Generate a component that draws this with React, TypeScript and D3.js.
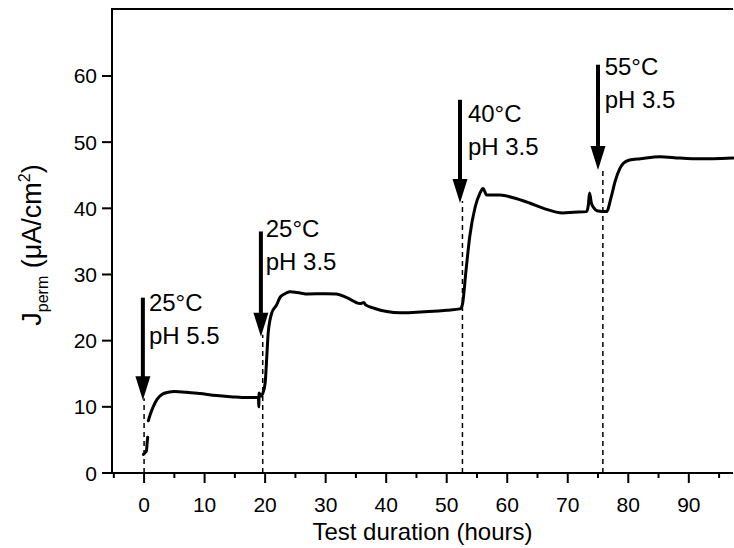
import React from "react";
import * as d3 from "d3";

const W = 734;
const H = 548;

// Curve: start segment (NaN = gap) then main trace
const hours: number[] = [
  -0.1, 0.2, 0.4, 0.5, 0.6, NaN,
  0.7, 1.0, 1.5, 2.2, 3.0, 4.0, 5.0, 7.0, 9.2, 12, 14.7, 17, 18.9, 18.95, 19.0, 19.3, 19.6,
  20.0, 20.3, 20.5, 21.1, 21.9, 22.5, 23.5, 24.1, 25.8, 27, 30, 31.8, 33.5, 35.7, 36.3, 36.6, 38, 40.1, 42.3,
  45, 47, 50, 52.2, 52.6, 53.2, 53.8, 54.7, 55.5, 56.0, 56.6, 58.8, 61, 63.7, 66, 69.2, 71, 73.1,
  73.4, 73.6, 73.9, 74.2, 75.0, 76.4, 77.2, 77.8, 78.6, 79.2, 80.2, 82, 85.2, 88.5, 91, 94, 97.3,
];
const current: number[] = [
  2.8, 3.1, 3.4, 4.5, 5.4, NaN,
  7.9, 8.8, 10.0, 11.2, 11.9, 12.2, 12.3, 12.2, 12.0, 11.7, 11.5, 11.4, 11.4, 10.0, 12.1, 11.6, 12.0,
  13.6, 18.0, 21.1, 24.2, 25.4, 26.6, 27.2, 27.4, 27.2, 27.05, 27.1, 27.05, 26.5, 25.6, 25.75, 25.4, 24.9, 24.4, 24.2,
  24.3, 24.4, 24.6, 24.8, 25.5, 30.7, 35.7, 40.2, 42.3, 43.0, 42.0, 42.0, 41.6, 40.8, 40.0, 39.3, 39.4, 39.5,
  40.5, 42.3, 40.8, 40.2, 39.6, 39.5, 41.8, 44.0, 46.0, 46.8, 47.3, 47.5, 47.8, 47.6, 47.5, 47.5, 47.6,
];

// Event markers (dashed lines) and arrows
const eventHours: number[] = [0, 19.6, 52.6, 75.8];
const arrowHours: number[] = [-0.2, 19.3, 52.2, 75.0];
const arrowTop: number[] = [26.5, 36.5, 56.4, 61.7];
const arrowTip: number[] = [11.0, 20.6, 40.8, 45.8];
const labelHours: number[] = [0.8, 20.1, 53.5, 76.1];
const labelLevel: number[] = [24.5, 35.6, 53.1, 60.1];
const tempLabels: string[] = ["25°C", "25°C", "40°C", "55°C"];
const phLabels: string[] = ["pH 5.5", "pH 3.5", "pH 3.5", "pH 3.5"];

const xTicks: number[] = [0, 10, 20, 30, 40, 50, 60, 70, 80, 90];
const xMinorTicks: number[] = [-5, 5, 15, 25, 35, 45, 55, 65, 75, 85, 95];
const yTicks: number[] = [0, 10, 20, 30, 40, 50, 60];

const FONT = "Arial, 'Liberation Sans', Helvetica, sans-serif";

export default function App() {
  const left = 112, right = 733, top = 9, bottom = 473;
  const x = d3.scaleLinear().domain([-5.3, 97.3]).range([left, right]);
  const y = d3.scaleLinear().domain([0, 70]).range([bottom, 9.8]);

  const pts = hours.map((h, i) => [h, current[i]] as [number, number]);
  const line = d3
    .line<[number, number]>()
    .defined((d) => !isNaN(d[0]) && !isNaN(d[1]))
    .x((d) => x(d[0]))
    .y((d) => y(d[1]))
    .curve(d3.curveMonotoneX);

  const headLen = 24;
  const headHalf = 7.5;

  return (
    <svg
      width={W}
      height={H}
      style={{ position: "absolute", left: 0, top: 0, background: "#fff" }}
      fontFamily={FONT}
    >
      <rect x={0} y={0} width={W} height={H} fill="#fff" />

      {/* dashed event lines */}
      {eventHours.map((h, i) => (
        <line
          key={"ev" + i}
          x1={x(h)}
          x2={x(h)}
          y1={bottom}
          y2={y(arrowTip[i]) - 2}
          stroke="#000"
          strokeWidth={1.5}
          strokeDasharray="5,4"
        />
      ))}

      {/* data curve */}
      <path
        d={line(pts) || ""}
        fill="none"
        stroke="#000"
        strokeWidth={3}
        strokeLinejoin="round"
        strokeLinecap="round"
      />

      {/* arrows */}
      {arrowHours.map((h, i) => {
        const ax = x(h);
        const y0 = y(arrowTop[i]);
        const y1 = y(arrowTip[i]);
        return (
          <g key={"ar" + i}>
            <line x1={ax} x2={ax} y1={y0} y2={y1 - headLen + 2} stroke="#000" strokeWidth={4} />
            <path
              d={`M${ax - headHalf},${y1 - headLen} L${ax + headHalf},${y1 - headLen} L${ax},${y1} Z`}
              fill="#000"
            />
          </g>
        );
      })}

      {/* annotation labels */}
      {labelHours.map((h, i) => (
        <g key={"lb" + i} fontSize={24} fill="#000">
          <text x={x(h)} y={y(labelLevel[i])}>
            {tempLabels[i]}
          </text>
          <text x={x(h)} y={y(labelLevel[i]) + 33}>
            {phLabels[i]}
          </text>
        </g>
      ))}

      {/* axes frame */}
      <line x1={left} x2={left} y1={top} y2={bottom + 1} stroke="#000" strokeWidth={2} />
      <line x1={left - 1} x2={right} y1={top} y2={top} stroke="#000" strokeWidth={2} />
      <line x1={left - 1} x2={right} y1={bottom} y2={bottom} stroke="#000" strokeWidth={2} />

      {/* x ticks */}
      {xTicks.map((t) => (
        <g key={"xt" + t}>
          <line x1={x(t)} x2={x(t)} y1={bottom} y2={bottom + 10} stroke="#000" strokeWidth={2} />
          <text x={x(t)} y={512} fontSize={21} textAnchor="middle" fill="#000">
            {t}
          </text>
        </g>
      ))}
      {xMinorTicks.map((t) => (
        <line key={"xm" + t} x1={x(t)} x2={x(t)} y1={bottom} y2={bottom + 5} stroke="#000" strokeWidth={2} />
      ))}

      {/* y ticks */}
      {yTicks.map((t) => (
        <g key={"yt" + t}>
          <line x1={left - 10} x2={left} y1={y(t)} y2={y(t)} stroke="#000" strokeWidth={2} />
          <text x={97} y={y(t) + 7.5} fontSize={21} textAnchor="end" fill="#000">
            {t}
          </text>
        </g>
      ))}

      {/* axis titles */}
      <text x={(left + right) / 2} y={540} fontSize={24} textAnchor="middle" fill="#000">
        Test duration (hours)
      </text>
      <text transform={`translate(41,245) rotate(-90)`} fontSize={27} textAnchor="middle" fill="#000">
        J
        <tspan fontSize={16} dy={7}>perm</tspan>
        <tspan dy={-7}> (μA/cm</tspan>
        <tspan fontSize={16} dy={-11}>2</tspan>
        <tspan dy={11}>)</tspan>
      </text>
    </svg>
  );
}
